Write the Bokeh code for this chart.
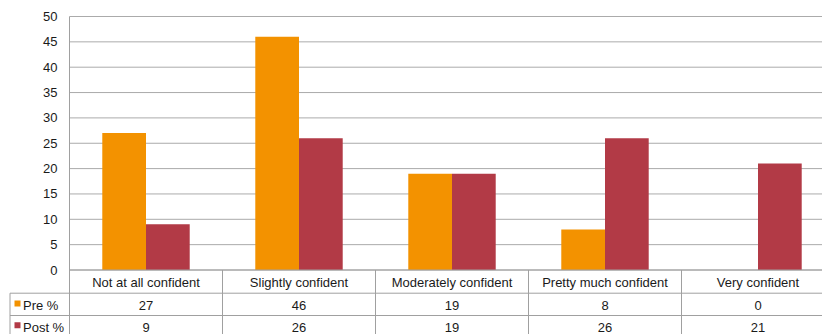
import numpy as np
from bokeh.plotting import figure
from bokeh.models import Range1d, FixedTicker, LinearAxis
from bokeh.core.properties import value
from bokeh.embed import file_html
from bokeh.resources import INLINE

# Survey data: confidence level before and after (percent of respondents)
categories = ["Not at all confident", "Slightly confident", "Moderately confident",
              "Pretty much confident", "Very confident"]
pre_pct = [27, 46, 19, 8, 0]
post_pct = [9, 26, 19, 26, 21]
series_names = ["Pre %", "Post %"]
y_ticks = [0, 5, 10, 15, 20, 25, 30, 35, 40, 45, 50]

PRE_COLOR = "#F39200"
POST_COLOR = "#B23A46"
series_colors = [PRE_COLOR, POST_COLOR]
FONT = "Liberation Sans"
TEXT_COLOR = "#1a1a1a"
GRID_COLOR = "#ABABAB"
TABLE_LINE = "#A0A0A0"

# Geometry (pixels): value axis at x=69, each category slot is 153 px,
# value 50 sits at y=16 and value 0 at y=269.5; the data table fills the rest.
W, H = 822, 334
AXIS_PX, TOP = 69, 16
SLOT = 153.0
ZERO_PX = 269.5
Y_MAX = 50
PX_PER_UNIT = (ZERO_PX - TOP) / Y_MAX

x_start = -AXIS_PX / SLOT
x_end = (W - AXIS_PX) / SLOT
y_start = -(H - ZERO_PX) / PX_PER_UNIT
y_end = Y_MAX + TOP / PX_PER_UNIT


def py(pix):
    """Vertical pixel position -> data units (table rows live below zero)."""
    return (ZERO_PX - pix) / PX_PER_UNIT


def px(pix):
    """Horizontal pixel position -> data units."""
    return (pix - AXIS_PX) / SLOT


bar_w = 1 / 3.5  # two bars plus a 150% gap per category
centers = np.arange(len(categories)) + 0.5

p = figure(width=W, height=H, x_range=Range1d(x_start, x_end),
           y_range=Range1d(y_start, y_end), x_axis_type=None, y_axis_type=None,
           toolbar_location=None, output_backend="svg",
           min_border_left=0, min_border_right=0, min_border_top=0,
           min_border_bottom=0)
p.outline_line_color = None
p.background_fill_color = "white"
p.border_fill_color = "white"

# Horizontal gridlines across the plotting area only
n_t = len(y_ticks)
p.segment(x0=[0] * n_t, y0=y_ticks, x1=[x_end] * n_t, y1=y_ticks,
          line_color=GRID_COLOR, line_width=1)

# Value axis pinned at x = 0 so the table's series column can sit to its left
yax = LinearAxis(fixed_location=0, ticker=FixedTicker(ticks=y_ticks),
                 bounds=(y_start, Y_MAX))
yax.axis_line_color = TABLE_LINE
yax.major_tick_line_color = None
yax.minor_tick_line_color = None
yax.major_tick_out = 0
yax.major_tick_in = 0
yax.major_label_standoff = 12
yax.major_label_text_font = FONT
yax.major_label_text_font_size = "13px"
yax.major_label_text_color = TEXT_COLOR
p.add_layout(yax, "left")

# Bars
p.vbar(x=centers - bar_w / 2, top=pre_pct, width=bar_w, bottom=0,
       fill_color=PRE_COLOR, line_color=None)
p.vbar(x=centers + bar_w / 2, top=post_pct, width=bar_w, bottom=0,
       fill_color=POST_COLOR, line_color=None)

# ---- Data table below the axis -----------------------------------------
tbl_left = px(9.5)
row1_px, row2_px = 292.7, 315.0
p.segment(x0=[0, tbl_left, tbl_left], y0=[0, py(row1_px), py(row2_px)],
          x1=[x_end] * 3, y1=[0, py(row1_px), py(row2_px)],
          line_color=TABLE_LINE, line_width=1)
seps = [1, 2, 3, 4]
p.segment(x0=seps + [tbl_left], y0=[0] * len(seps) + [py(row1_px)],
          x1=seps + [tbl_left], y1=[y_start] * (len(seps) + 1),
          line_color=TABLE_LINE, line_width=1)

txt = dict(text_font=value(FONT), text_font_size="13px", text_color=TEXT_COLOR,
           text_baseline="middle")
n = len(categories)
p.text(x=centers, y=[py(282)] * n, text=categories, text_align="center", **txt)
p.text(x=centers, y=[py(304.5)] * n, text=[str(v) for v in pre_pct],
       text_align="center", **txt)
p.text(x=centers, y=[py(326.5)] * n, text=[str(v) for v in post_pct],
       text_align="center", **txt)

# Series column: colour key and name for each row
key_y = [py(303), py(324.7)]
p.scatter(x=[px(17)] * 2, y=key_y, marker="square", size=6,
          fill_color=series_colors, line_color=None)
p.text(x=[px(22.5)] * 2, y=[py(304.5), py(326.5)], text=series_names,
       text_align="left", **txt)

open("out.html", "w").write(file_html(p, INLINE))
